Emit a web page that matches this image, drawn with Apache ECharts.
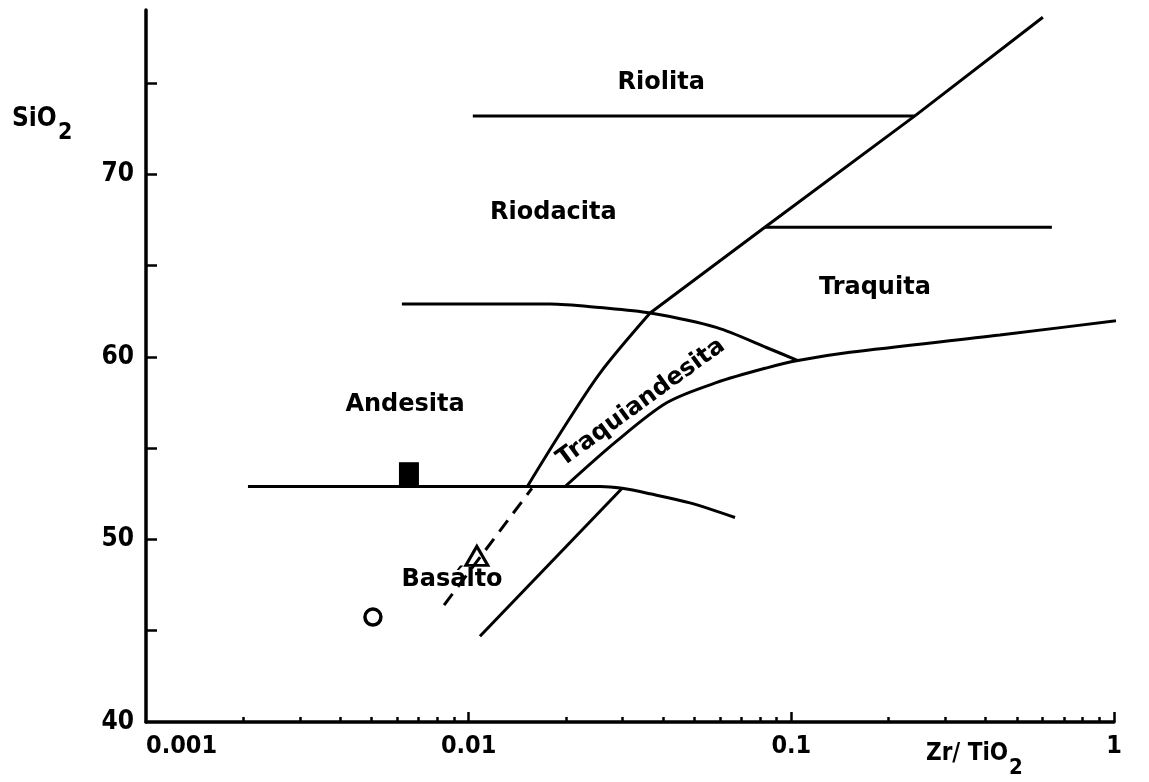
<!DOCTYPE html>
<html>
<head>
<meta charset="UTF-8" />
<title>Zr/TiO2 - SiO2</title>
<style>
  html, body { margin: 0; padding: 0; background: #fff; }
  #chart { width: 1149px; height: 782px; }
</style>
</head>
<body>
<div id="chart"></div>
<script src="https://cdn.jsdelivr.net/npm/echarts@6/dist/echarts.min.js"></script>
<script>
// boundary lines of the diagram, [Zr/TiO2, SiO2]
const riolitaLine = [[0.0103, 73.2], [0.2415, 73.2]];
const traquitaTop = [[0.0828, 67.1], [0.642, 67.1]];
const boundaryLow = [[0.0152, 52.9], [0.0192, 55.8], [0.0255, 59.1], [0.0365, 62.4]];
const boundaryHigh = [[0.0365, 62.4], [0.0828, 67.1], [0.2415, 73.2], [0.602, 78.6]];
const andesitaTop = [[0.00621, 62.9], [0.0179, 62.9], [0.0255, 62.7], [0.0365, 62.4], [0.0588, 61.6], [0.084, 60.5], [0.1048, 59.8]];
const traquitaBase = [[0.0199, 52.9], [0.0288, 55.4], [0.0412, 57.5], [0.0588, 58.6], [0.084, 59.4], [0.1048, 59.8], [0.1519, 60.25], [0.443, 61.2], [1.283, 62.2]];
const basaltoTop = [[0.00207, 52.9], [0.0152, 52.9], [0.0199, 52.9], [0.0255, 52.9], [0.0299, 52.8], [0.0365, 52.5], [0.0485, 52.0], [0.0669, 51.2]];
const basaltoRight = [[0.01084, 44.7], [0.0299, 52.8]];
const dashedLine = [[0.00839, 46.4], [0.0157, 52.8]];

// samples
const squareSample = [[0.00653, 53.6]];
const triangleSample = [[0.0106, 49.1]];
const circleSample = [[0.00505, 45.75]];

// field names: [x, y, text, rotate]
const fieldLabels = [
  [0.0395, 75.0, 'Riolita', 0],
  [0.0183, 67.9, 'Riodacita', 0],
  [0.1815, 63.8, 'Traquita', 0],
  [0.00635, 57.35, 'Andesita', 0],
  [0.0342, 57.5, 'Traquiandesita', 36],
  [0.00888, 47.8, 'Basálto', 0]
];

const xLabelValues = [0.001, 0.01, 0.1, 1];
const xLabelTexts = ['0.001', '0.01', '0.1', '1'];
const xMajorTicks = [0.01, 0.1, 1];
const xMinorTicks = [0.002, 0.003, 0.004, 0.005, 0.006, 0.007, 0.008, 0.009,
  0.02, 0.03, 0.04, 0.05, 0.06, 0.07, 0.08, 0.09,
  0.2, 0.3, 0.4, 0.5, 0.6, 0.7, 0.8, 0.9];
const yTicks = [45, 50, 55, 60, 65, 70, 75];
const yLabels = [40, 50, 60, 70];

const tickFont = "'Liberation Sans Narrow', 'DejaVu Sans Condensed', 'DejaVu Sans', sans-serif";
const textFont = "'DejaVu Sans', sans-serif";

const chart = echarts.init(document.getElementById('chart'), null, { renderer: 'canvas' });

function boundary(data, smooth, dashed) {
  return {
    type: 'line',
    data: data,
    smooth: smooth,
    showSymbol: false,
    clip: false,
    silent: true,
    lineStyle: { color: '#000', width: 3, type: dashed ? [14, 9] : 'solid' }
  };
}

const option = {
  backgroundColor: '#fff',
  animation: false,
  grid: { left: 146, right: 35, top: 10, bottom: 60 },
  xAxis: [{
    type: 'log',
    logBase: 10,
    min: 0.001,
    max: 1,
    axisLine: { lineStyle: { color: '#000', width: 3.5 } },
    axisTick: { inside: true, length: 10, customValues: xMajorTicks, lineStyle: { color: '#000', width: 2.5 } },
    axisLabel: {
      customValues: xLabelValues,
      margin: 12,
      alignMinLabel: 'left',
      color: '#000',
      fontFamily: tickFont,
      fontWeight: 'bold',
      fontSize: 25,
      formatter: function (v) {
        const i = xLabelValues.findIndex(function (t) { return Math.abs(Math.log10(t) - Math.log10(v)) < 1e-6; });
        return i >= 0 ? xLabelTexts[i] : '';
      }
    },
    splitLine: { show: false }
  }, {
    type: 'log',
    logBase: 10,
    min: 0.001,
    max: 1,
    position: 'bottom',
    axisLine: { show: false },
    axisTick: { inside: true, length: 5, customValues: xMinorTicks, lineStyle: { color: '#000', width: 2.5 } },
    axisLabel: { show: false },
    splitLine: { show: false }
  }],
  yAxis: {
    type: 'value',
    min: 40,
    max: 79,
    axisLine: { show: true, lineStyle: { color: '#000', width: 3.5 } },
    axisTick: { show: true, inside: true, length: 11, customValues: yTicks, lineStyle: { color: '#000', width: 2.5 } },
    axisLabel: {
      customValues: yLabels,
      margin: 12,
      color: '#000',
      fontFamily: tickFont,
      fontWeight: 'bold',
      fontSize: 26
    },
    splitLine: { show: false }
  },
  graphic: [
    { type: 'text', left: 12, top: 106, style: { text: 'SiO', fill: '#000', font: "bold 26px " + tickFont } },
    { type: 'text', left: 58, top: 122, style: { text: '2', fill: '#000', font: "bold 23px " + tickFont } },
    { type: 'text', left: 926, top: 742, style: { text: 'Zr/ TiO', fill: '#000', font: "bold 24px " + tickFont } },
    { type: 'text', left: 1009, top: 757, style: { text: '2', fill: '#000', font: "bold 22px " + tickFont } }
  ],
  series: [
    boundary(riolitaLine, false),
    boundary(traquitaTop, false),
    boundary(boundaryLow, 0.3),
    boundary(boundaryHigh, false),
    boundary(andesitaTop, 0.3),
    boundary(traquitaBase, 0.3),
    boundary(basaltoTop, 0.3),
    boundary(basaltoRight, false),
    boundary(dashedLine, false, true),
    {
      type: 'scatter',
      data: squareSample,
      symbol: 'rect',
      symbolSize: [20, 23],
      itemStyle: { color: '#000', opacity: 1 },
      silent: true
    },
    {
      type: 'scatter',
      data: triangleSample,
      symbol: 'triangle',
      symbolSize: [22, 19],
      itemStyle: { color: '#fff', borderColor: '#000', borderWidth: 3, opacity: 1 },
      silent: true
    },
    {
      type: 'scatter',
      data: circleSample,
      symbol: 'circle',
      symbolSize: 16,
      itemStyle: { color: '#fff', borderColor: '#000', borderWidth: 3.5, opacity: 1 },
      silent: true
    },
    {
      type: 'scatter',
      silent: true,
      symbolSize: 1,
      itemStyle: { color: 'rgba(0,0,0,0)', opacity: 1 },
      label: {
        show: true,
        position: 'inside',
        color: '#000',
        opacity: 1,
        fontFamily: textFont,
        fontWeight: 'bold',
        fontSize: 24,
        formatter: function (p) { return p.data.name; }
      },
      data: fieldLabels.map(function (d) {
        return { value: [d[0], d[1]], name: d[2], label: { rotate: d[3] } };
      })
    }
  ]
};

chart.setOption(option);
window.addEventListener('resize', function () { chart.resize(); });
</script>
</body>
</html>
